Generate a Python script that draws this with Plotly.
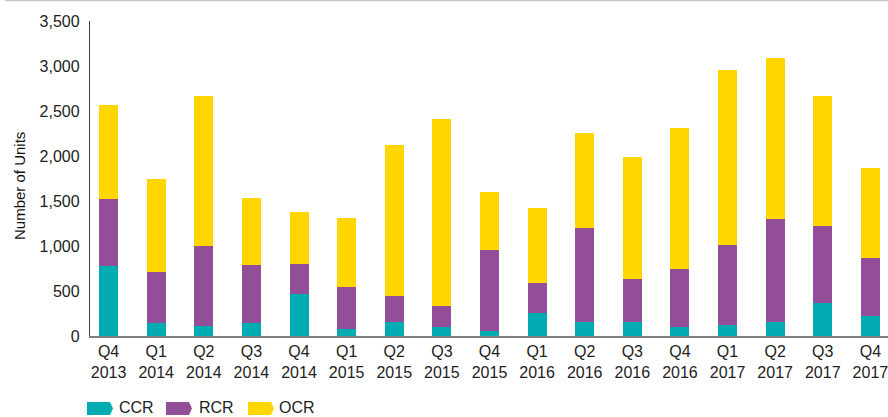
import plotly.graph_objects as go

quarters = ["Q4<br>2013", "Q1<br>2014", "Q2<br>2014", "Q3<br>2014", "Q4<br>2014",
            "Q1<br>2015", "Q2<br>2015", "Q3<br>2015", "Q4<br>2015",
            "Q1<br>2016", "Q2<br>2016", "Q3<br>2016", "Q4<br>2016",
            "Q1<br>2017", "Q2<br>2017", "Q3<br>2017", "Q4<br>2017"]
ccr = [780, 145, 115, 140, 470, 80, 160, 100, 55, 255, 160, 160, 100, 120, 160, 365, 225]
rcr = [740, 565, 885, 650, 330, 465, 285, 235, 905, 335, 1040, 475, 640, 890, 1135, 855, 645]
ocr = [1050, 1035, 1670, 745, 580, 770, 1680, 2080, 645, 835, 1060, 1350, 1575, 1950, 1790, 1450, 1000]
series_names = ["CCR", "RCR", "OCR"]
colors = ["#00ABB1", "#924E96", "#FFD600"]
y_ticks = [0, 500, 1000, 1500, 2000, 2500, 3000, 3500]

W, H = 888, 417
L, R, T, B = 90, 0, 21, 81
PW = W - L - R
PH = H - T - B

def px(xp):
    return (xp - L) / PW

def py(yp):
    return (H - B - yp) / PH

fig = go.Figure()
for name, vals, col in zip(series_names, [ccr, rcr, ocr], colors):
    fig.add_trace(go.Bar(x=quarters, y=vals, name=name, marker_color=col,
                         marker_line_width=0, showlegend=False))

shapes = []
annotations = []
# custom legend (arrow-tag symbols)
legend_items = [(87, 117), (166, 197), (248, 277)]
for (sx, tx), name, col in zip(legend_items, series_names, colors):
    x0, x1, tip = sx, sx + 23, sx + 26
    y0, y1 = 402, 415
    ym = (y0 + y1) / 2
    path = (f"M {px(x0)} {py(y0)} L {px(x1)} {py(y0)} L {px(tip)} {py(ym)} "
            f"L {px(x1)} {py(y1)} L {px(x0)} {py(y1)} Z")
    shapes.append(dict(type="path", xref="paper", yref="paper", path=path,
                       fillcolor=col, line=dict(width=0)))
    annotations.append(dict(xref="paper", yref="paper", x=px(tx), y=py(407.5),
                            xanchor="left", yanchor="middle", text=name,
                            showarrow=False,
                            font=dict(family="Liberation Sans, Arial", size=16, color="#222")))

# top border line
shapes.append(dict(type="line", xref="paper", yref="paper", x0=px(5), x1=px(888),
                   y0=py(0.5), y1=py(0.5), line=dict(color="#C9C6C1", width=1.5)))

# y-axis title
annotations.append(dict(xref="paper", yref="paper", x=px(19), y=py(186),
                        xanchor="center", yanchor="middle", text="Number of Units",
                        textangle=-90, showarrow=False,
                        font=dict(family="Liberation Sans, Arial", size=15, color="#111")))

fig.update_layout(
    width=W, height=H, barmode="stack", bargap=0.6,
    margin=dict(l=L, r=R, t=T, b=B),
    plot_bgcolor="white", paper_bgcolor="white",
    font=dict(family="Liberation Sans, Arial", size=16, color="#222"),
    shapes=shapes, annotations=annotations,
    xaxis=dict(range=[-0.39, 16.37], showline=True, linecolor="#7F7F7F", linewidth=2,
               showgrid=False, ticks="", tickfont=dict(size=16, color="#222"),
               fixedrange=True),
    yaxis=dict(range=[0, 3500], tickvals=y_ticks, tickformat=",", showline=True,
               linecolor="#444", linewidth=1.3, showgrid=False, zeroline=False,
               ticks="", ticklabelstandoff=6, tickfont=dict(size=16, color="#222"),
               fixedrange=True),
)

fig.write_html("out.html", config={"displayModeBar": False},
               post_script="document.body.style.margin='0';document.body.style.overflow='hidden';")
